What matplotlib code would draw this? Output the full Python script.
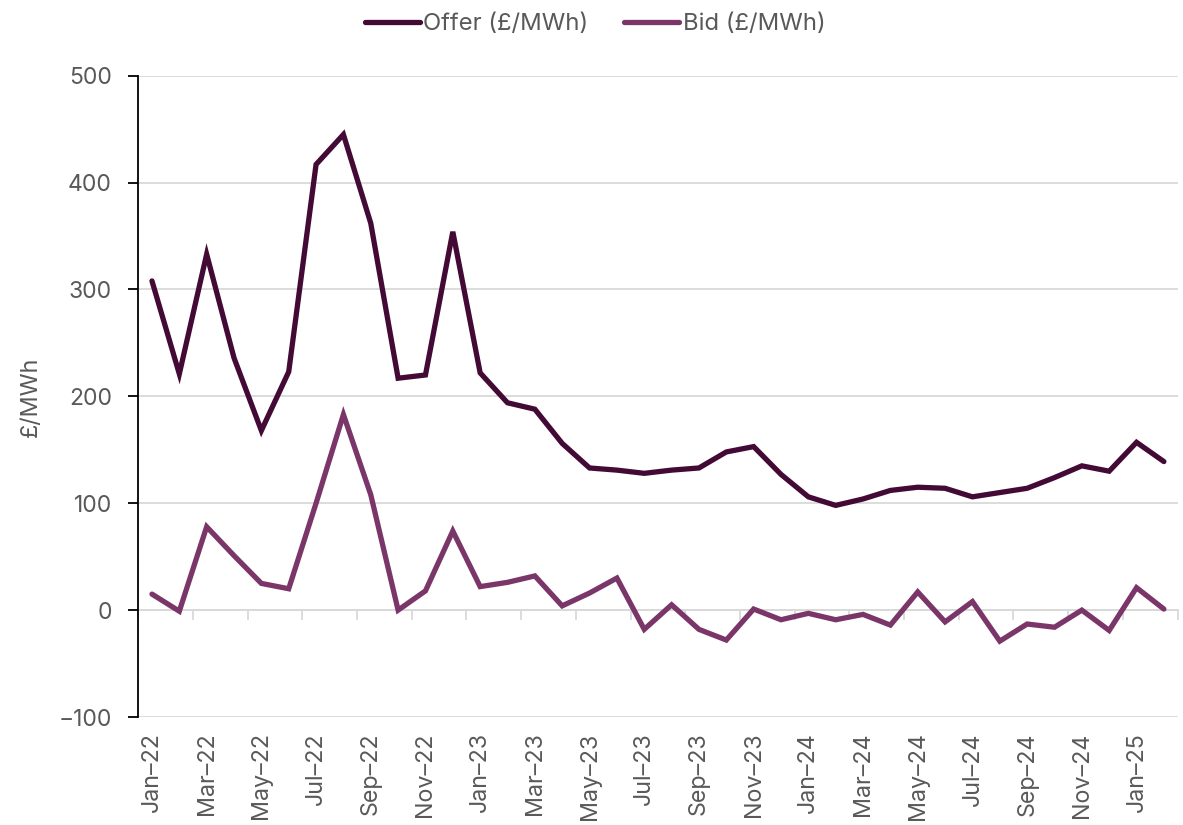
import matplotlib
matplotlib.use("Agg")
import matplotlib.pyplot as plt

plt.rcParams['font.family'] = ['Inter', 'DejaVu Sans']

months = ["Jan–22", "Feb–22", "Mar–22", "Apr–22", "May–22", "Jun–22",
          "Jul–22", "Aug–22", "Sep–22", "Oct–22", "Nov–22", "Dec–22",
          "Jan–23", "Feb–23", "Mar–23", "Apr–23", "May–23", "Jun–23",
          "Jul–23", "Aug–23", "Sep–23", "Oct–23", "Nov–23", "Dec–23",
          "Jan–24", "Feb–24", "Mar–24", "Apr–24", "May–24", "Jun–24",
          "Jul–24", "Aug–24", "Sep–24", "Oct–24", "Nov–24", "Dec–24",
          "Jan–25", "Feb–25"]

offer = [308, 221, 333, 236, 168, 223, 417, 445, 362, 217, 220, 354,
         222, 194, 188, 156, 133, 131, 128, 131, 133, 148, 153, 127,
         106, 98, 104, 112, 115, 114, 106, 110, 114, 124, 135, 130,
         157, 139]

bid = [15, -1, 78, 51, 25, 20, 100, 183, 108, 0, 18, 74,
       22, 26, 32, 4, 16, 30, -18, 5, -18, -28, 1, -9,
       -3, -9, -4, -14, 17, -11, 8, -29, -13, -16, 0, -19,
       21, 1]

y_ticks = [-100, 0, 100, 200, 300, 400, 500]

offer_color = "#420A35"
bid_color = "#7A3668"
text_color = "#595959"
grid_color = "#D9D9D9"

fig = plt.figure(figsize=(11.83, 8.25), dpi=100)
ax = fig.add_axes([0.1169, 0.1309, 0.8785, 0.7773])

x = list(range(len(months)))
ax.plot(x, offer, color=offer_color, lw=3.8, solid_capstyle='round',
        solid_joinstyle='miter', label="Offer (£/MWh)", zorder=3)
ax.plot(x, bid, color=bid_color, lw=3.8, solid_capstyle='round',
        solid_joinstyle='miter', label="Bid (£/MWh)", zorder=3)

ymin, ymax = y_ticks[0], y_ticks[-1]
ax.set_ylim(ymin, ymax)
ax.set_xlim(-0.5, len(months) - 0.5)
ax.set_yticks(y_ticks)
ax.yaxis.grid(True, color=grid_color, lw=1.3)
ax.set_axisbelow(True)

for side in ("top", "right", "bottom"):
    ax.spines[side].set_visible(False)
ax.spines["left"].set_color("black")
ax.spines["left"].set_linewidth(1.3)
ax.tick_params(axis="y", direction="out", length=7, width=1.3, color="black",
               labelsize=16.5, labelcolor=text_color, pad=12)

# month labels every other category, sitting below the plot area
ax.set_xticks(x[::2])
ax.set_xticklabels(months[::2], rotation=90, fontsize=16.8, color=text_color)
ax.tick_params(axis="x", length=0, pad=11)

# category-boundary tick marks on the zero line
zero_ax = ax.secondary_xaxis((0 - ymin) / (ymax - ymin))
zero_ax.set_xticks([i - 0.5 for i in range(0, len(months) + 1, 2)])
zero_ax.tick_params(axis="x", direction="out", length=7, width=1.3,
                    color=grid_color, labelbottom=False, labeltop=False)
zero_ax.spines["bottom"].set_color(grid_color)
zero_ax.spines["bottom"].set_linewidth(1.3)

ax.set_ylabel("£/MWh", fontsize=16.8, color=text_color, labelpad=12)

fig.legend(loc="upper center", bbox_to_anchor=(0.503, 1.01), ncol=2,
           frameon=False, fontsize=17.2, handlelength=2.3, handletextpad=0.15,
           columnspacing=1.5, labelcolor=text_color)

fig.savefig("out.png", dpi=100)
